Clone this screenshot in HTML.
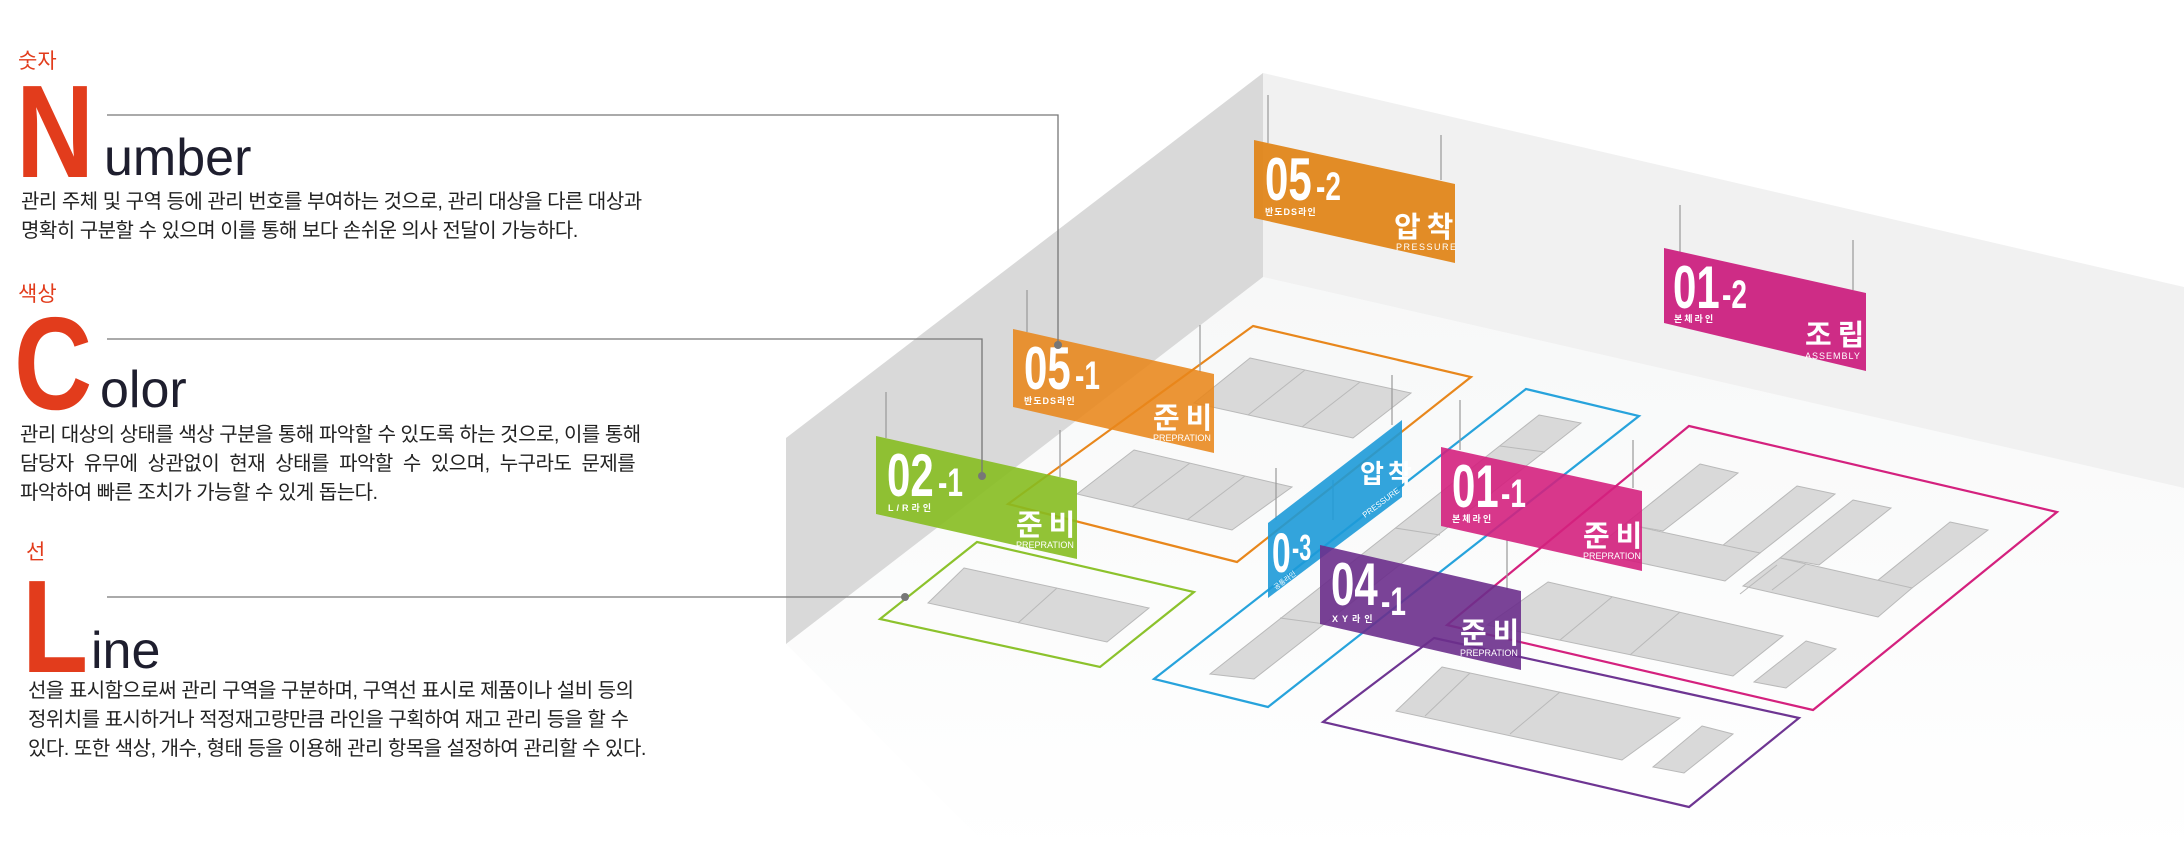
<!DOCTYPE html>
<html><head><meta charset="utf-8">
<style>
html,body{margin:0;padding:0;background:#fff;}
body{width:2184px;height:859px;overflow:hidden;position:relative;font-family:"Liberation Sans","Noto Sans CJK KR",sans-serif;}
.k{position:absolute;color:#e23c1c;font-size:21px;font-family:"Liberation Sans","Noto Sans CJK KR",sans-serif;}
.big{position:absolute;color:#e23c1c;font-weight:bold;font-family:"Liberation Sans",sans-serif;line-height:1;}
.rest{position:absolute;color:#1e1e2e;font-family:"Liberation Sans",sans-serif;line-height:1;transform-origin:left bottom;}
.p{position:absolute;color:#222;font-size:20px;line-height:29px;letter-spacing:-0.5px;font-family:"Liberation Sans","Noto Sans CJK KR",sans-serif;white-space:nowrap;}
svg{position:absolute;left:0;top:0;}
</style></head><body>
<svg width="2184" height="859" viewBox="0 0 2184 859" font-family="Liberation Sans, Noto Sans CJK KR, sans-serif">
<defs>
<linearGradient id="fl" x1="0" y1="0" x2="0" y2="1"><stop offset="0" stop-color="#f7f8f8"/><stop offset="1" stop-color="#ffffff"/></linearGradient>
</defs>
<polygon points="786,644 1263,277 2184,488 2184,859 1000,859" fill="url(#fl)"/>
<polygon points="1263,73 2184,287 2184,488 1263,277" fill="#f1f1f1"/>
<polygon points="786,438 1263,73 1263,277 786,644" fill="#d9d9d9"/>

<g fill="#d9d9d9" stroke="#b9b9b9" stroke-width="1">
<polygon points="964,568 1149,608 1107,642 928,603"/>
<line x1="1057" y1="588" x2="1018" y2="623"/>
<polygon points="1250,358 1411,393 1353,438 1194,403"/>
<line x1="1305" y1="370" x2="1248" y2="415"/><line x1="1360" y1="382" x2="1302" y2="427"/>
<polygon points="1134,450 1292,487 1232,530 1077,494"/>
<line x1="1190" y1="463" x2="1132" y2="507"/><line x1="1245" y1="476" x2="1187" y2="520"/>
<polygon points="1539,415 1581,423 1254,679 1210,674"/>
<line x1="1500" y1="446" x2="1545" y2="452"/><line x1="1395" y1="528" x2="1440" y2="535"/><line x1="1280" y1="618" x2="1325" y2="624"/>
<polygon points="1700,464 1738,473 1663,531 1625,524"/>
<polygon points="1797,486 1835,494 1760,553 1722,546"/>
<polygon points="1625,524 1760,553 1725,581 1590,552"/>
<polygon points="1853,500 1891,508 1819,565 1780,558"/>
<polygon points="1950,522 1988,530 1912,588 1877,581"/>
<polygon points="1780,558 1912,588 1878,617 1743,586"/>
<line x1="1777" y1="565" x2="1740" y2="594" /><line x1="1806" y1="564" x2="1772" y2="590"/>
<polygon points="1548,582 1783,636 1733,676 1487,625"/>
<line x1="1612" y1="597" x2="1560" y2="640"/><line x1="1680" y1="612" x2="1630" y2="655"/>
<polygon points="1806,641 1836,649 1786,688 1754,682"/>
<polygon points="1442,667 1680,718 1622,760 1396,711"/>
<line x1="1470" y1="673" x2="1425" y2="716"/><line x1="1560" y1="692" x2="1510" y2="734"/>
<polygon points="1702,726 1733,734 1684,773 1653,767"/>
</g>

<g fill="none" stroke-width="2.2">
<polygon points="977,542 1194,592 1100,667 880,619" stroke="#8cc22c"/>
<polygon points="1253,326 1471,377 1237,562 1008,504" stroke="#e8871c"/>
<polygon points="1526,389 1639,416 1268,707 1154,679" stroke="#27a3dc"/>
<polygon points="1689,426 2057,512 1813,710 1447,625" stroke="#d4217e"/>
<polygon points="1434,638 1799,718 1689,807 1323,722" stroke="#6e3592"/>
</g>

<g stroke="#999" stroke-width="1.2">
<line x1="1268" y1="95" x2="1268" y2="143"/><line x1="1441" y1="135" x2="1441" y2="180"/>
<line x1="1680" y1="205" x2="1680" y2="252"/><line x1="1853" y1="240" x2="1853" y2="290"/>
<line x1="1027" y1="290" x2="1027" y2="332"/><line x1="1200" y1="325" x2="1200" y2="372"/>
<line x1="886" y1="392" x2="886" y2="438"/><line x1="1060" y1="430" x2="1060" y2="477"/>
<line x1="1276" y1="468" x2="1276" y2="520"/><line x1="1333" y1="480" x2="1333" y2="520"/>
<line x1="1392" y1="375" x2="1392" y2="425"/>
<line x1="1460" y1="400" x2="1460" y2="450"/><line x1="1633" y1="440" x2="1633" y2="488"/>
<line x1="1507" y1="540" x2="1507" y2="590"/>
</g>

<g>
<polygon points="1254,140 1455,184 1455,263 1254,218" fill="#e0861a" opacity="0.95"/>
<text transform="translate(1265,200) scale(0.7,1)" font-size="60" font-weight="bold" fill="#fff">05</text>
<text transform="translate(1316,200) scale(0.7,1)" font-size="40" font-weight="bold" fill="#fff">-2</text>
<text x="1265" y="215" font-size="9" font-weight="bold" fill="#fff" letter-spacing="1">반도DS라인</text>
<text x="1394" y="237" font-size="29" font-weight="bold" fill="#fff" letter-spacing="6">압착</text>
<text x="1396" y="250" font-size="9" fill="#fff" letter-spacing="1.5">PRESSURE</text>
</g>
<g>
<polygon points="1664,248 1866,293 1866,371 1664,323" fill="#cc2582" opacity="0.97"/>
<text transform="translate(1673,308) scale(0.7,1)" font-size="60" font-weight="bold" fill="#fff">01</text>
<text transform="translate(1722,308) scale(0.7,1)" font-size="40" font-weight="bold" fill="#fff">-2</text>
<text x="1674" y="322" font-size="9" font-weight="bold" fill="#fff" letter-spacing="2">본체라인</text>
<text x="1805" y="345" font-size="29" font-weight="bold" fill="#fff" letter-spacing="6">조립</text>
<text x="1805" y="359" font-size="9" fill="#fff" letter-spacing="1">ASSEMBLY</text>
</g>
<g>
<polygon points="1013,329 1214,374 1214,453 1013,407" fill="#e8861a" opacity="0.88"/>
<text transform="translate(1024,389) scale(0.7,1)" font-size="60" font-weight="bold" fill="#fff">05</text>
<text transform="translate(1075,389) scale(0.7,1)" font-size="40" font-weight="bold" fill="#fff">-1</text>
<text x="1024" y="404" font-size="9" font-weight="bold" fill="#fff" letter-spacing="1">반도DS라인</text>
<text x="1153" y="428" font-size="29" font-weight="bold" fill="#fff" letter-spacing="6">준비</text>
<text x="1153" y="441" font-size="9" fill="#fff">PREPRATION</text>
</g>
<g>
<polygon points="876,436 1077,481 1077,559 876,514" fill="#86bd20" opacity="0.9"/>
<text transform="translate(887,496) scale(0.7,1)" font-size="60" font-weight="bold" fill="#fff">02</text>
<text transform="translate(938,496) scale(0.7,1)" font-size="40" font-weight="bold" fill="#fff">-1</text>
<text x="888" y="511" font-size="9" font-weight="bold" fill="#fff" letter-spacing="3">L/R라인</text>
<text x="1016" y="535" font-size="29" font-weight="bold" fill="#fff" letter-spacing="6">준비</text>
<text x="1016" y="548" font-size="9" fill="#fff">PREPRATION</text>
</g>
<g>
<polygon points="1268,523 1402,420 1402,497 1268,598" fill="#1d9ad8" opacity="0.9"/>
<text transform="translate(1272,572) scale(0.6,1)" font-size="56" font-weight="bold" fill="#fff">0</text>
<text transform="translate(1292,560) scale(0.6,1)" font-size="36" font-weight="bold" fill="#fff">-3</text>
<text x="1360" y="483" font-size="26" font-weight="bold" fill="#fff" letter-spacing="4">압착</text>
<text transform="translate(1365,518) rotate(-37)" font-size="8" fill="#fff">PRESSURE</text>
<text transform="translate(1276,590) rotate(-37)" font-size="7" fill="#fff">공통라인</text>
</g>
<g>
<polygon points="1441,447 1642,491 1642,571 1441,526" fill="#d4217e" opacity="0.9"/>
<text transform="translate(1452,507) scale(0.7,1)" font-size="60" font-weight="bold" fill="#fff">01</text>
<text transform="translate(1501,507) scale(0.7,1)" font-size="40" font-weight="bold" fill="#fff">-1</text>
<text x="1452" y="522" font-size="9" font-weight="bold" fill="#fff" letter-spacing="2">본체라인</text>
<text x="1583" y="546" font-size="29" font-weight="bold" fill="#fff" letter-spacing="6">준비</text>
<text x="1583" y="559" font-size="9" fill="#fff">PREPRATION</text>
</g>
<g>
<polygon points="1320,545 1521,591 1521,670 1320,624" fill="#6c2f8c" opacity="0.9"/>
<text transform="translate(1331,605) scale(0.7,1)" font-size="60" font-weight="bold" fill="#fff">04</text>
<text transform="translate(1381,615) scale(0.7,1)" font-size="40" font-weight="bold" fill="#fff">-1</text>
<text x="1332" y="622" font-size="9" font-weight="bold" fill="#fff" letter-spacing="4">XY라인</text>
<text x="1460" y="643" font-size="29" font-weight="bold" fill="#fff" letter-spacing="6">준비</text>
<text x="1460" y="656" font-size="9" fill="#fff">PREPRATION</text>
</g>

<g stroke="#777" stroke-width="1.3" fill="none">
<polyline points="107,115 1058,115 1058,345"/>
<polyline points="107,339 982,339 982,476"/>
<polyline points="107,597 905,597"/>
</g>
<g fill="#777"><circle cx="1058" cy="345" r="4"/><circle cx="982" cy="476" r="4"/><circle cx="905" cy="597" r="4"/></g>
</svg>

<div class="k" style="left:18px;top:45px;">숫자</div>
<div class="big" style="left:16px;top:66px;font-size:132px;letter-spacing:-4px;transform:scaleX(0.82);transform-origin:left top;">N</div>
<div class="rest" style="left:104px;top:132px;font-size:52px;">umber</div>
<div class="p" style="left:21px;top:188px;">관리 주체 및 구역 등에 관리 번호를 부여하는 것으로, 관리 대상을 다른 대상과<br>명확히 구분할 수 있으며 이를 통해 보다 손쉬운 의사 전달이 가능하다.</div>

<div class="k" style="left:18px;top:278px;">색상</div>
<div class="big" style="left:14px;top:298px;font-size:132px;transform:scaleX(0.82);transform-origin:left top;">C</div>
<div class="rest" style="left:100px;top:364px;font-size:52px;">olor</div>
<div class="p" style="left:20px;top:421px;">관리 대상의 상태를 색상 구분을 통해 파악할 수 있도록 하는 것으로, 이를 통해<br>담당자&nbsp; 유무에&nbsp; 상관없이&nbsp; 현재&nbsp; 상태를&nbsp; 파악할&nbsp; 수&nbsp; 있으며,&nbsp; 누구라도&nbsp; 문제를<br>파악하여 빠른 조치가 가능할 수 있게 돕는다.</div>

<div class="k" style="left:26px;top:536px;">선</div>
<div class="big" style="left:22px;top:561px;font-size:132px;transform:scaleX(0.82);transform-origin:left top;">L</div>
<div class="rest" style="left:91px;top:625px;font-size:52px;">ine</div>
<div class="p" style="left:28px;top:677px;">선을 표시함으로써 관리 구역을 구분하며, 구역선 표시로 제품이나 설비 등의<br>정위치를 표시하거나 적정재고량만큼 라인을 구획하여 재고 관리 등을 할 수<br>있다. 또한 색상, 개수, 형태 등을 이용해 관리 항목을 설정하여 관리할 수 있다.</div>
</body></html>
